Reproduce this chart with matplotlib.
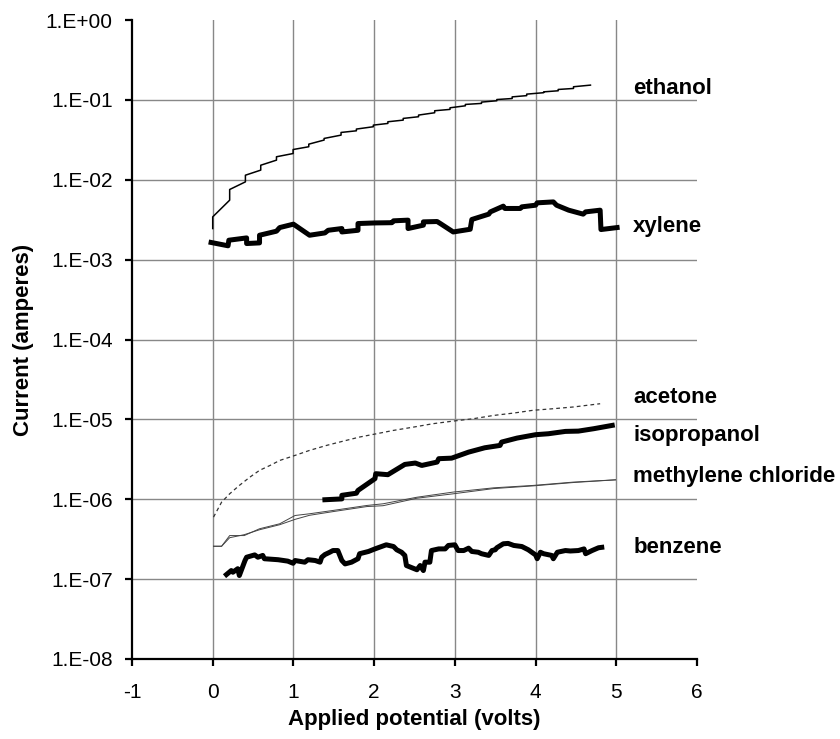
import matplotlib
matplotlib.use("Agg")
import matplotlib.pyplot as plt
from matplotlib.ticker import FixedLocator, FuncFormatter, NullLocator
import numpy as np

plt.rcParams['font.family'] = ['Liberation Sans', 'DejaVu Sans']

# ---- data ----
ethanol_x = [0.0, 0.0, 0.21, 0.21, 0.405, 0.405, 0.595, 0.595, 0.79, 0.79, 0.996, 0.996,
             1.19, 1.19, 1.38, 1.38, 1.59, 1.59, 1.78, 1.78, 1.99, 1.99, 2.17, 2.17,
             2.36, 2.36, 2.55, 2.55, 2.75, 2.75, 2.94, 2.94, 3.13, 3.13, 3.33, 3.33,
             3.52, 3.52, 3.71, 3.71, 3.89, 3.89, 4.10, 4.10, 4.28, 4.28, 4.47, 4.47, 4.68]
ethanol_y = [2.45e-3, 3.43e-3, 5.55e-3, 7.55e-3, 9.41e-3, 1.14e-2, 1.32e-2, 1.52e-2,
             1.76e-2, 1.94e-2, 2.13e-2, 2.39e-2, 2.59e-2, 2.79e-2, 3.14e-2, 3.29e-2,
             3.62e-2, 3.91e-2, 4.10e-2, 4.31e-2, 4.61e-2, 4.83e-2, 5.07e-2, 5.32e-2,
             5.58e-2, 5.86e-2, 6.15e-2, 6.45e-2, 6.9e-2, 7.31e-2, 7.6e-2, 7.96e-2,
             8.43e-2, 8.77e-2, 9.03e-2, 9.38e-2, 9.75e-2, 0.101, 0.104, 0.109,
             0.113, 0.118, 0.123, 0.126, 0.130, 0.135, 0.139, 0.146, 0.153]

xylene_x = [-0.02, 0.19, 0.20, 0.42, 0.42, 0.58, 0.58, 0.79, 0.83, 1.00, 1.20, 1.39,
            1.43, 1.60, 1.60, 1.80, 1.80, 2.01, 2.22, 2.24, 2.42, 2.42, 2.61, 2.61,
            2.78, 2.82, 2.98, 3.19, 3.21, 3.42, 3.44, 3.60, 3.62, 3.81, 3.83, 4.00,
            4.02, 4.22, 4.26, 4.41, 4.59, 4.62, 4.80, 4.81, 5.01]
xylene_y = [1.64e-3, 1.49e-3, 1.75e-3, 1.87e-3, 1.59e-3, 1.62e-3, 2.02e-3, 2.27e-3,
            2.52e-3, 2.78e-3, 2.02e-3, 2.16e-3, 2.33e-3, 2.45e-3, 2.22e-3, 2.33e-3,
            2.83e-3, 2.88e-3, 2.90e-3, 3.06e-3, 3.12e-3, 2.45e-3, 2.70e-3, 2.97e-3,
            3.00e-3, 2.83e-3, 2.22e-3, 2.40e-3, 3.18e-3, 3.71e-3, 3.96e-3, 4.67e-3,
            4.37e-3, 4.37e-3, 4.58e-3, 4.80e-3, 5.14e-3, 5.28e-3, 4.80e-3, 4.16e-3,
            3.71e-3, 3.96e-3, 4.16e-3, 2.38e-3, 2.52e-3]

acetone_x = [0.01, 0.11, 0.21, 0.33, 0.46, 0.58, 0.71, 0.83, 1.02, 1.20, 1.41, 1.62,
             1.82, 2.03, 2.24, 2.49, 2.73, 2.98, 3.23, 3.48, 3.73, 3.97, 4.22, 4.47, 4.80]
acetone_y = [5.97e-7, 9.2e-7, 1.17e-6, 1.49e-6, 1.89e-6, 2.3e-6, 2.65e-6, 3.06e-6,
             3.54e-6, 4.09e-6, 4.72e-6, 5.35e-6, 6.01e-6, 6.61e-6, 7.28e-6, 8.01e-6,
             8.83e-6, 9.52e-6, 1.02e-5, 1.12e-5, 1.20e-5, 1.30e-5, 1.36e-5, 1.43e-5, 1.57e-5]

isoprop_x = [1.39, 1.60, 1.60, 1.78, 1.80, 2.01, 2.02, 2.17, 2.38, 2.51, 2.59, 2.78,
             2.80, 2.96, 3.17, 3.37, 3.56, 3.58, 3.77, 4.00, 4.16, 4.37, 4.53, 4.72, 4.95]
isoprop_y = [9.86e-7, 1.01e-6, 1.12e-6, 1.19e-6, 1.29e-6, 1.81e-6, 2.09e-6, 2.03e-6,
             2.73e-6, 2.84e-6, 2.65e-6, 2.92e-6, 3.22e-6, 3.27e-6, 3.89e-6, 4.41e-6,
             4.72e-6, 5.2e-6, 5.83e-6, 6.43e-6, 6.61e-6, 7.07e-6, 7.13e-6, 7.64e-6, 8.41e-6]

mc1_x = [0.01, 0.11, 0.21, 0.39, 0.58, 0.83, 1.02, 1.20, 1.49, 1.91, 2.11, 2.53,
         2.98, 3.48, 3.97, 4.47, 4.99]
mc1_y = [2.58e-7, 2.58e-7, 3.51e-7, 3.51e-7, 4.27e-7, 4.93e-7, 6.26e-7, 6.58e-7,
         7.24e-7, 8.36e-7, 8.77e-7, 1.06e-6, 1.23e-6, 1.39e-6, 1.49e-6, 1.64e-6, 1.75e-6]
mc2_x = [0.01, 0.11, 0.21, 0.39, 0.58, 0.83, 1.02, 1.20, 1.49, 1.91, 2.11, 2.53,
         2.98, 3.48, 3.97, 4.47, 4.99]
mc2_y = [2.58e-7, 2.58e-7, 3.3e-7, 3.6e-7, 4.15e-7, 4.8e-7, 5.6e-7, 6.3e-7,
         7.0e-7, 8.1e-7, 8.3e-7, 1.03e-6, 1.17e-6, 1.36e-6, 1.47e-6, 1.62e-6, 1.75e-6]

benzene_x = [0.17, 0.23, 0.25, 0.31, 0.33, 0.40, 0.42, 0.52, 0.56, 0.62, 0.64, 0.81,
             0.93, 0.996, 1.02, 1.14, 1.18, 1.27, 1.33, 1.35, 1.39, 1.45, 1.49, 1.55,
             1.60, 1.64, 1.72, 1.80, 1.82, 1.93, 2.01, 2.15, 2.24, 2.28, 2.34, 2.38,
             2.40, 2.53, 2.57, 2.61, 2.63, 2.69, 2.71, 2.80, 2.88, 2.92, 3.00, 3.04,
             3.11, 3.17, 3.21, 3.29, 3.33, 3.42, 3.46, 3.50, 3.52, 3.60, 3.66, 3.73,
             3.83, 3.91, 4.00, 4.02, 4.06, 4.10, 4.20, 4.22, 4.27, 4.37, 4.43, 4.53,
             4.60, 4.62, 4.70, 4.78, 4.82]
benzene_y = [1.14e-7, 1.28e-7, 1.22e-7, 1.35e-7, 1.11e-7, 1.71e-7, 1.88e-7, 2.01e-7,
             1.88e-7, 1.98e-7, 1.80e-7, 1.75e-7, 1.68e-7, 1.58e-7, 1.71e-7, 1.63e-7,
             1.75e-7, 1.71e-7, 1.63e-7, 1.88e-7, 2.03e-7, 2.17e-7, 2.28e-7, 2.28e-7,
             1.71e-7, 1.55e-7, 1.63e-7, 1.80e-7, 2.08e-7, 2.22e-7, 2.39e-7, 2.69e-7,
             2.56e-7, 2.33e-7, 2.17e-7, 1.98e-7, 1.48e-7, 1.31e-7, 1.48e-7, 1.28e-7,
             1.63e-7, 1.63e-7, 2.28e-7, 2.39e-7, 2.39e-7, 2.64e-7, 2.69e-7, 2.28e-7,
             2.28e-7, 2.44e-7, 2.22e-7, 2.17e-7, 2.08e-7, 1.98e-7, 2.28e-7, 2.33e-7,
             2.47e-7, 2.77e-7, 2.80e-7, 2.64e-7, 2.56e-7, 2.33e-7, 2.01e-7, 1.80e-7,
             2.17e-7, 2.08e-7, 1.98e-7, 1.80e-7, 2.17e-7, 2.28e-7, 2.25e-7, 2.28e-7,
             2.39e-7, 2.08e-7, 2.28e-7, 2.47e-7, 2.50e-7]

labels = ['ethanol', 'xylene', 'acetone', 'isopropanol', 'methylene chloride', 'benzene']
label_y = [0.14, 2.6e-3, 1.9e-5, 6.2e-6, 1.95e-6, 2.5e-7]
label_x = 5.21

x_ticks = [-1, 0, 1, 2, 3, 4, 5, 6]
y_ticks = [1e-8, 1e-7, 1e-6, 1e-5, 1e-4, 1e-3, 1e-2, 1e-1, 1e0]

# ---- figure ----
fig = plt.figure(figsize=(8.4, 7.39), dpi=100)
ax = fig.add_axes([132 / 840, 80 / 739, 565 / 840, 639 / 739])
ax.set_yscale('log')
ax.set_xlim(-1, 6)
ax.set_ylim(1e-8, 1e0)

ax.plot(ethanol_x, ethanol_y, color='black', lw=1.1)
ax.plot(xylene_x, xylene_y, color='black', lw=3.6)
ax.plot(acetone_x, acetone_y, color='#333333', lw=0.9, linestyle=(0, (3, 2.5)))
ax.plot(isoprop_x, isoprop_y, color='black', lw=3.6)
ax.plot(mc1_x, mc1_y, color='#444444', lw=0.7)
ax.plot(mc2_x, mc2_y, color='#444444', lw=0.7)
ax.plot(benzene_x, benzene_y, color='black', lw=3.6)

for lab, ly in zip(labels, label_y):
    ax.text(label_x, ly, lab, fontsize=16, fontweight='bold', va='center', ha='left',
            clip_on=False)

ax.xaxis.set_major_locator(FixedLocator(x_ticks))
ax.yaxis.set_major_locator(FixedLocator(y_ticks))
ax.yaxis.set_minor_locator(NullLocator())
ax.yaxis.set_major_formatter(FuncFormatter(lambda v, p: '1.E%+03d' % int(round(np.log10(v)))))
ax.xaxis.set_major_formatter(FuncFormatter(lambda v, p: '%d' % v))

ax.tick_params(axis='both', labelsize=15, length=5, width=1.6, direction='out')
ax.tick_params(axis='y', pad=9)
ax.tick_params(axis='x', pad=12)
ax.grid(True, color='#888888', lw=1.0)
ax.set_axisbelow(True)
for gl, t in zip(ax.get_xgridlines(), x_ticks):
    if t in (-1, 6):
        gl.set_visible(False)
for gl, t in zip(ax.get_ygridlines(), y_ticks):
    if t in (1e-8, 1e0):
        gl.set_visible(False)

for s in ['top', 'right']:
    ax.spines[s].set_visible(False)
for s in ['left', 'bottom']:
    ax.spines[s].set_linewidth(1.6)

ax.set_xlabel('Applied potential (volts)', fontsize=16, fontweight='bold', labelpad=5)
ax.set_ylabel('Current (amperes)', fontsize=16, fontweight='bold', labelpad=8)

fig.savefig('out.png', dpi=100)
